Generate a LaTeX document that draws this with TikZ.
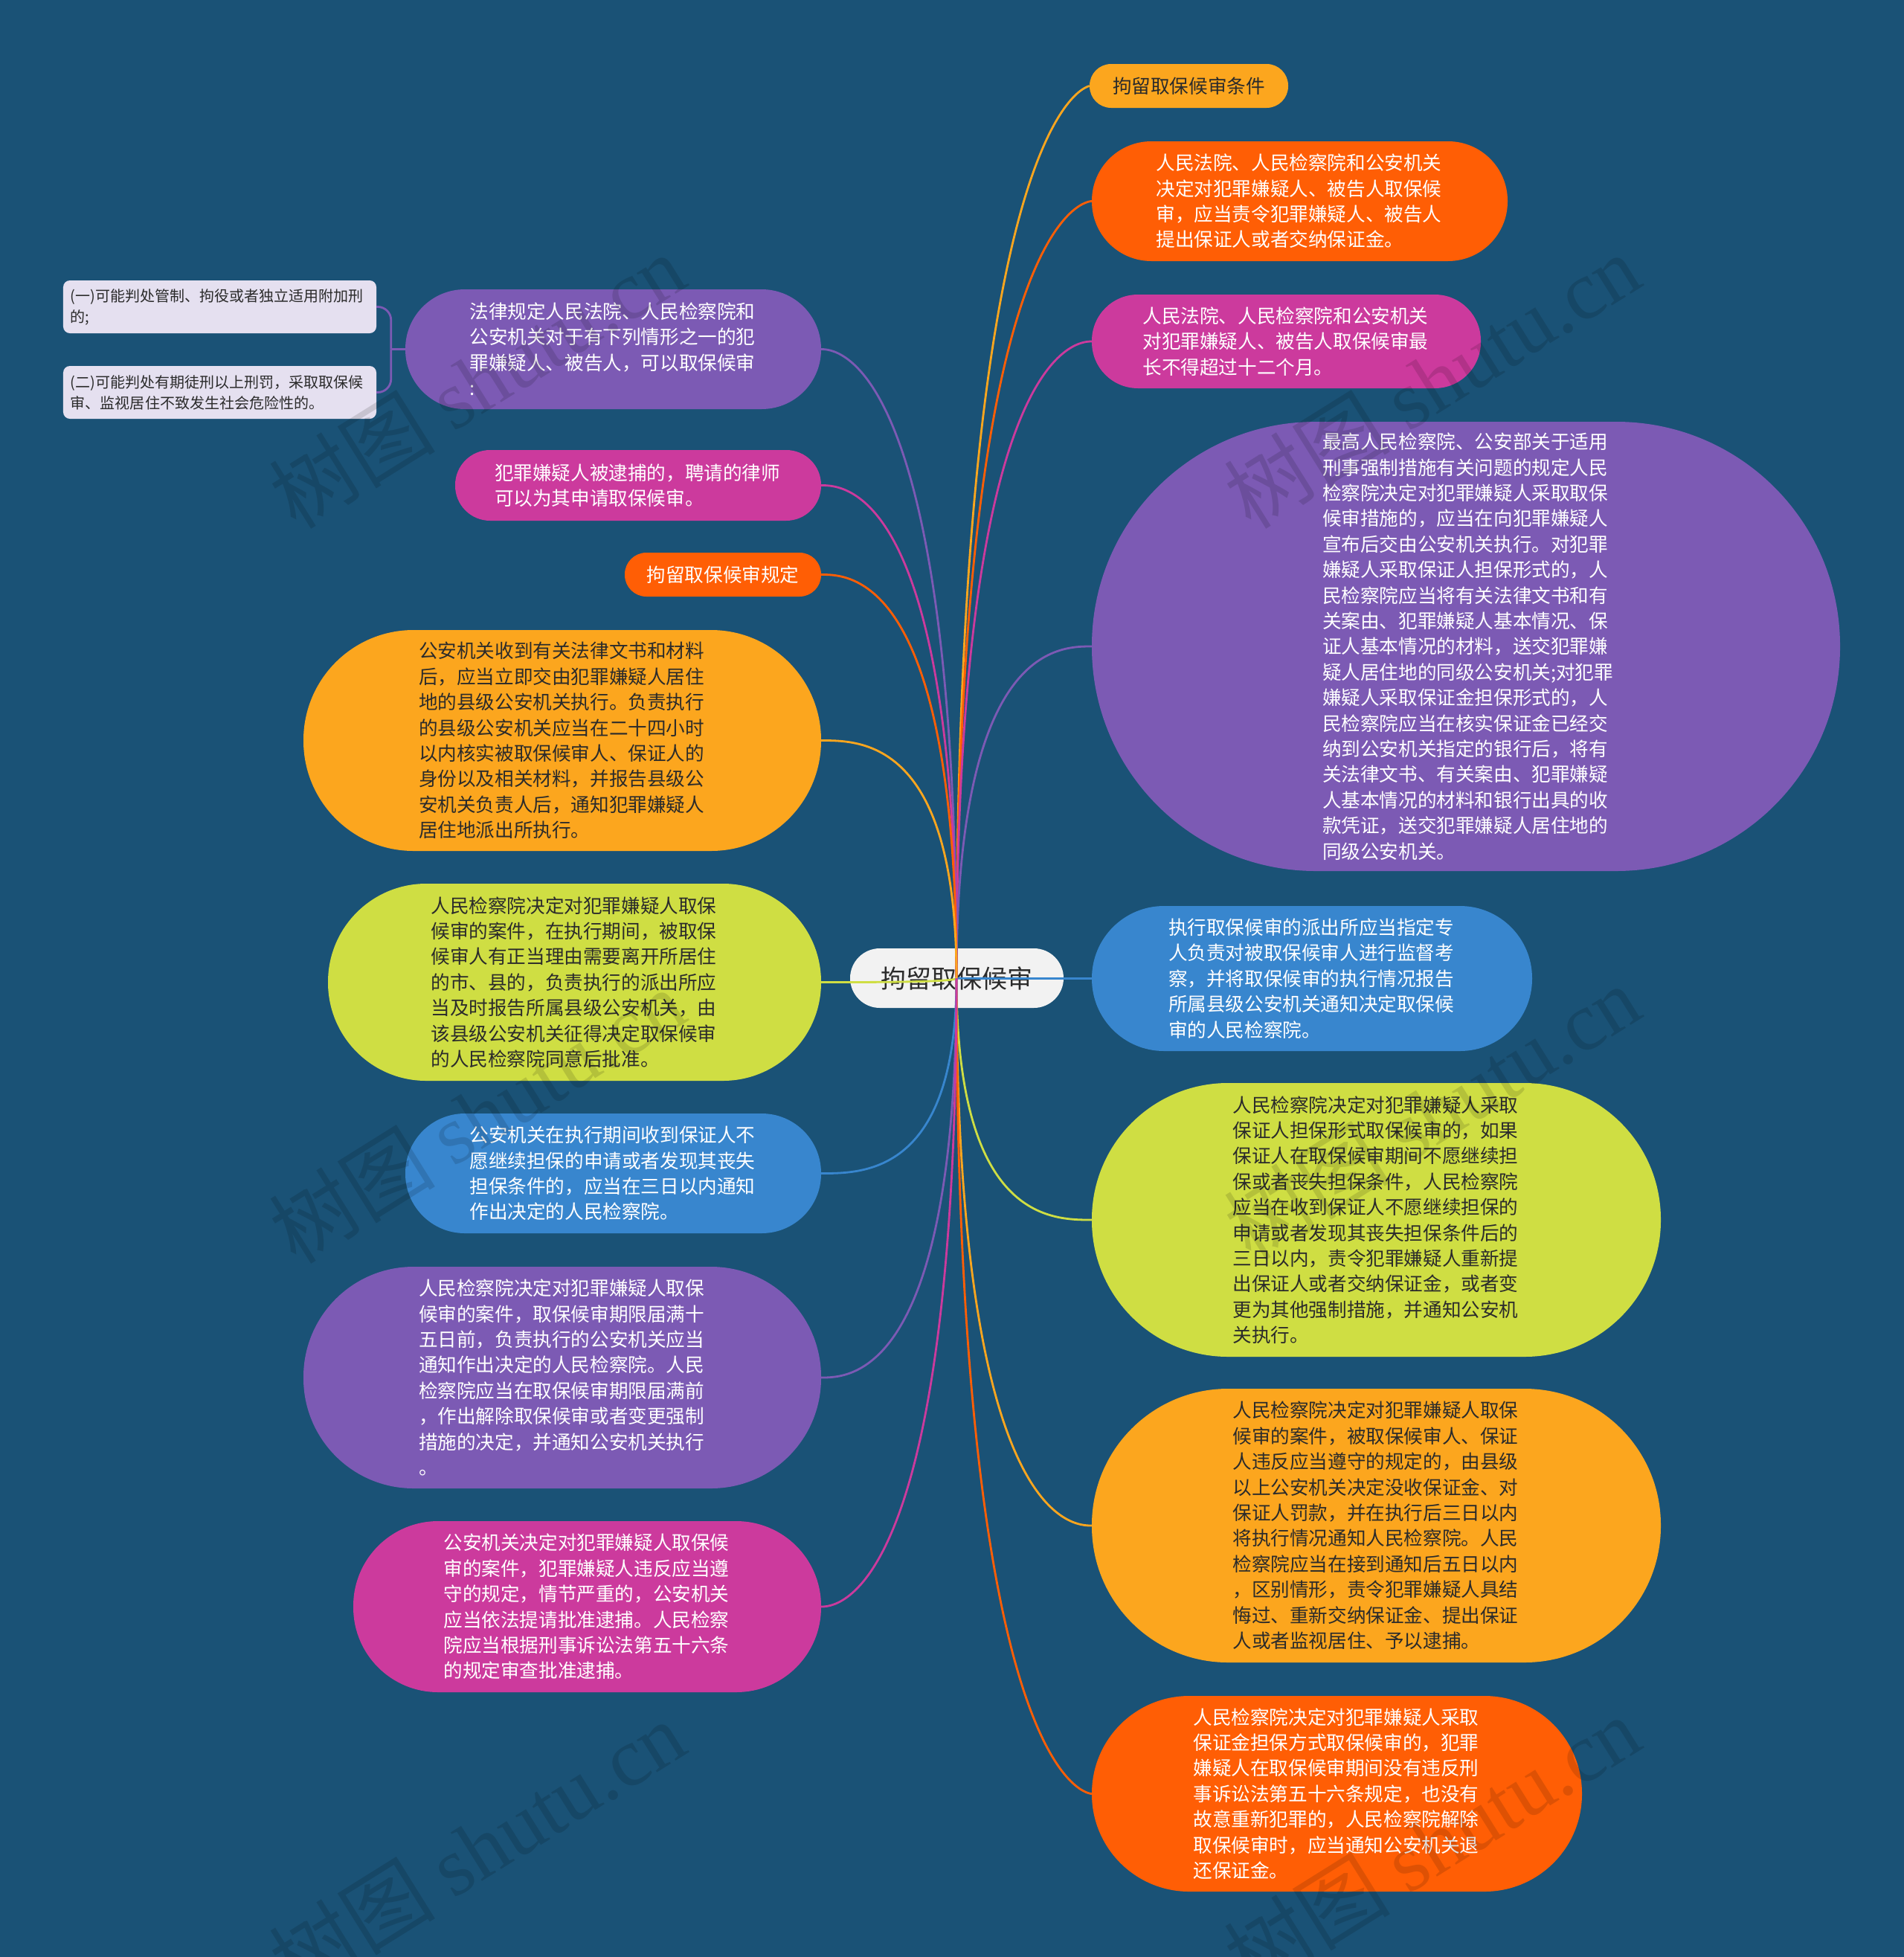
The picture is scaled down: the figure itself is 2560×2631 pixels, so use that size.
\documentclass[tikz,border=0pt]{standalone}
\usepackage{fontspec}
\setmainfont{Noto Sans CJK SC}
\newfontfamily\wmlatin{Liberation Serif}
\usetikzlibrary{calc}
\definecolor{bg}{HTML}{1A5276}
\definecolor{cPurple}{HTML}{7C5AB4}
\definecolor{cMag}{HTML}{CC3A9D}
\definecolor{cOR}{HTML}{FF5E05}
\definecolor{cOrange}{HTML}{FCA61E}
\definecolor{cBlue}{HTML}{3886CE}
\definecolor{cYG}{HTML}{CFDE43}
\definecolor{cGray}{HTML}{E5E0F0}
\definecolor{cWhite}{HTML}{F2F2F2}
\definecolor{cDark}{HTML}{2B2B2B}
\tikzset{
  base/.style={rectangle, inner sep=0pt, align=left, font=\fontsize{25.6bp}{34.4bp}\selectfont},
  pill/.style n args={3}{base, minimum width=#1, minimum height=#2, rounded corners=#3},
  tw/.style={text width=386bp},
  conn/.style={line width=2.8bp},
  wm/.style={rotate=32, text=black, opacity=0.13, font=\fontsize{112bp}{112bp}\selectfont}
}
\begin{document}
\begin{tikzpicture}[x=1bp,y=-1bp]
\fill[bg] (0,0) rectangle (2560,2631);
\useasboundingbox (0,0) rectangle (2560,2631);

% centre
\node[pill={287bp}{80bp}{40bp}, fill=cWhite, text=cDark, font=\fontsize{34bp}{40bp}\selectfont] (C) at (1286.5,1315) {拘留取保候审};
\coordinate (hub) at (1286,1315);

% right side
\node[pill={267bp}{59bp}{29bp}, fill=cOrange, text=cDark] (R1) at (1598.5,115.5) {拘留取保候审条件};
\node[pill={559bp}{161bp}{80bp}, fill=cOR, text=white, tw] (R2) at (1747.5,270.5) {人民法院、人民检察院和公安机关\\决定对犯罪嫌疑人、被告人取保候\\审，应当责令犯罪嫌疑人、被告人\\提出保证人或者交纳保证金。};
\node[pill={523bp}{126bp}{62bp}, fill=cMag, text=white, tw] (R3) at (1729.5,459) {人民法院、人民检察院和公安机关\\对犯罪嫌疑人、被告人取保候审最\\长不得超过十二个月。};
\node[pill={1006bp}{604bp}{301bp}, fill=cPurple, text=white, tw] (R4) at (1971,869) {最高人民检察院、公安部关于适用\\刑事强制措施有关问题的规定人民\\检察院决定对犯罪嫌疑人采取取保\\候审措施的，应当在向犯罪嫌疑人\\宣布后交由公安机关执行。对犯罪\\嫌疑人采取保证人担保形式的，人\\民检察院应当将有关法律文书和有\\关案由、犯罪嫌疑人基本情况、保\\证人基本情况的材料，送交犯罪嫌\\疑人居住地的同级公安机关;对犯罪\\嫌疑人采取保证金担保形式的，人\\民检察院应当在核实保证金已经交\\纳到公安机关指定的银行后，将有\\关法律文书、有关案由、犯罪嫌疑\\人基本情况的材料和银行出具的收\\款凭证，送交犯罪嫌疑人居住地的\\同级公安机关。};
\node[pill={592bp}{195bp}{97bp}, fill=cBlue, text=white, tw] (R5) at (1764,1315.5) {执行取保候审的派出所应当指定专\\人负责对被取保候审人进行监督考\\察，并将取保候审的执行情况报告\\所属县级公安机关通知决定取保候\\审的人民检察院。};
\node[pill={765bp}{368bp}{183bp}, fill=cYG, text=cDark, tw] (R6) at (1850.5,1640) {人民检察院决定对犯罪嫌疑人采取\\保证人担保形式取保候审的，如果\\保证人在取保候审期间不愿继续担\\保或者丧失担保条件，人民检察院\\应当在收到保证人不愿继续担保的\\申请或者发现其丧失担保条件后的\\三日以内，责令犯罪嫌疑人重新提\\出保证人或者交纳保证金，或者变\\更为其他强制措施，并通知公安机\\关执行。};
\node[pill={765bp}{368bp}{183bp}, fill=cOrange, text=cDark, tw] (R7) at (1850.5,2051) {人民检察院决定对犯罪嫌疑人取保\\候审的案件，被取保候审人、保证\\人违反应当遵守的规定的，由县级\\以上公安机关决定没收保证金、对\\保证人罚款，并在执行后三日以内\\将执行情况通知人民检察院。人民\\检察院应当在接到通知后五日以内\\，区别情形，责令犯罪嫌疑人具结\\悔过、重新交纳保证金、提出保证\\人或者监视居住、予以逮捕。};
\node[pill={659bp}{263bp}{131bp}, fill=cOR, text=white, tw] (R8) at (1797.5,2411.5) {人民检察院决定对犯罪嫌疑人采取\\保证金担保方式取保候审的，犯罪\\嫌疑人在取保候审期间没有违反刑\\事诉讼法第五十六条规定，也没有\\故意重新犯罪的，人民检察院解除\\取保候审时，应当通知公安机关退\\还保证金。};

% left side
\node[pill={559bp}{161bp}{80bp}, fill=cPurple, text=white, tw] (L1) at (824.5,469.5) {法律规定人民法院、人民检察院和\\公安机关对于有下列情形之一的犯\\罪嫌疑人、被告人，可以取保候审\\:};
\node[pill={492bp}{95bp}{47bp}, fill=cMag, text=white, tw] (L2) at (858,652.5) {犯罪嫌疑人被逮捕的，聘请的律师\\可以为其申请取保候审。};
\node[pill={264bp}{59bp}{29bp}, fill=cOR, text=white] (L3) at (972,772.5) {拘留取保候审规定};
\node[pill={696bp}{297bp}{148bp}, fill=cOrange, text=cDark, tw] (L4) at (756,995.5) {公安机关收到有关法律文书和材料\\后，应当立即交由犯罪嫌疑人居住\\地的县级公安机关执行。负责执行\\的县级公安机关应当在二十四小时\\以内核实被取保候审人、保证人的\\身份以及相关材料，并报告县级公\\安机关负责人后，通知犯罪嫌疑人\\居住地派出所执行。};
\node[pill={663bp}{265bp}{132bp}, fill=cYG, text=cDark, tw] (L5) at (772.5,1320.5) {人民检察院决定对犯罪嫌疑人取保\\候审的案件，在执行期间，被取保\\候审人有正当理由需要离开所居住\\的市、县的，负责执行的派出所应\\当及时报告所属县级公安机关，由\\该县级公安机关征得决定取保候审\\的人民检察院同意后批准。};
\node[pill={559bp}{161bp}{80bp}, fill=cBlue, text=white, tw] (L6) at (824.5,1577.5) {公安机关在执行期间收到保证人不\\愿继续担保的申请或者发现其丧失\\担保条件的，应当在三日以内通知\\作出决定的人民检察院。};
\node[pill={696bp}{298bp}{148bp}, fill=cPurple, text=white, tw] (L7) at (756,1852) {人民检察院决定对犯罪嫌疑人取保\\候审的案件，取保候审期限届满十\\五日前，负责执行的公安机关应当\\通知作出决定的人民检察院。人民\\检察院应当在取保候审期限届满前\\，作出解除取保候审或者变更强制\\措施的决定，并通知公安机关执行\\。};
\node[pill={629bp}{230bp}{114bp}, fill=cMag, text=white, tw] (L8) at (789.5,2160) {公安机关决定对犯罪嫌疑人取保候\\审的案件，犯罪嫌疑人违反应当遵\\守的规定，情节严重的，公安机关\\应当依法提请批准逮捕。人民检察\\院应当根据刑事诉讼法第五十六条\\的规定审查批准逮捕。};

% children of L1
\node[base, minimum width=421bp, minimum height=71bp, rounded corners=9bp, fill=cGray, text=cDark, text width=401bp, font=\fontsize{20bp}{28bp}\selectfont] (C1) at (295.5,412.5) {(一)可能判处管制、拘役或者独立适用附加刑\\的;};
\node[base, minimum width=421bp, minimum height=71bp, rounded corners=9bp, fill=cGray, text=cDark, text width=401bp, font=\fontsize{20bp}{28bp}\selectfont] (C2) at (295.5,527.5) {(二)可能判处有期徒刑以上刑罚，采取取保候\\审、监视居住不致发生社会危险性的。};

% connectors
\foreach \n/\c/\b in {R1/cOrange/1.04,R2/cOR/0.99,R3/cMag/0.91,R4/cPurple/0.75,R5/cBlue/0.6,R6/cYG/0.7,R7/cOrange/0.87,R8/cOR/1.0}{
  \draw[conn, \c] (hub) .. controls (hub |- \n.west) and ($(hub |- \n.west)!\b!(\n.west)$) .. (\n.west);
}
\foreach \n/\c/\b in {L1/cPurple/0.91,L2/cMag/0.84,L3/cOR/0.79,L4/cOrange/0.7,L5/cYG/0.6,L6/cBlue/0.68,L7/cPurple/0.79,L8/cMag/0.91}{
  \draw[conn, \c] (hub) .. controls (hub |- \n.east) and ($(hub |- \n.east)!\b!(\n.east)$) .. (\n.east);
}
\coordinate (j1) at ($(L1.west)+(-19,0)$);
\draw[conn, cPurple] (L1.west) -- (j1);
\draw[conn, cPurple, rounded corners=18bp] (j1) |- (C1.east);
\draw[conn, cPurple, rounded corners=18bp] (j1) |- (C2.east);

% watermarks
\node[wm] (wm1) at (641,512) {树图 {\wmlatin shutu.cn}};
\node[wm] (wm2) at (1925,512) {树图 {\wmlatin shutu.cn}};
\node[wm] (wm3) at (641,1500) {树图 {\wmlatin shutu.cn}};
\node[wm] (wm4) at (1925,1495) {树图 {\wmlatin shutu.cn}};
\node[wm] (wm5) at (641,2484) {树图 {\wmlatin shutu.cn}};
\node[wm] (wm6) at (1925,2478) {树图 {\wmlatin shutu.cn}};
\end{tikzpicture}
\end{document}
